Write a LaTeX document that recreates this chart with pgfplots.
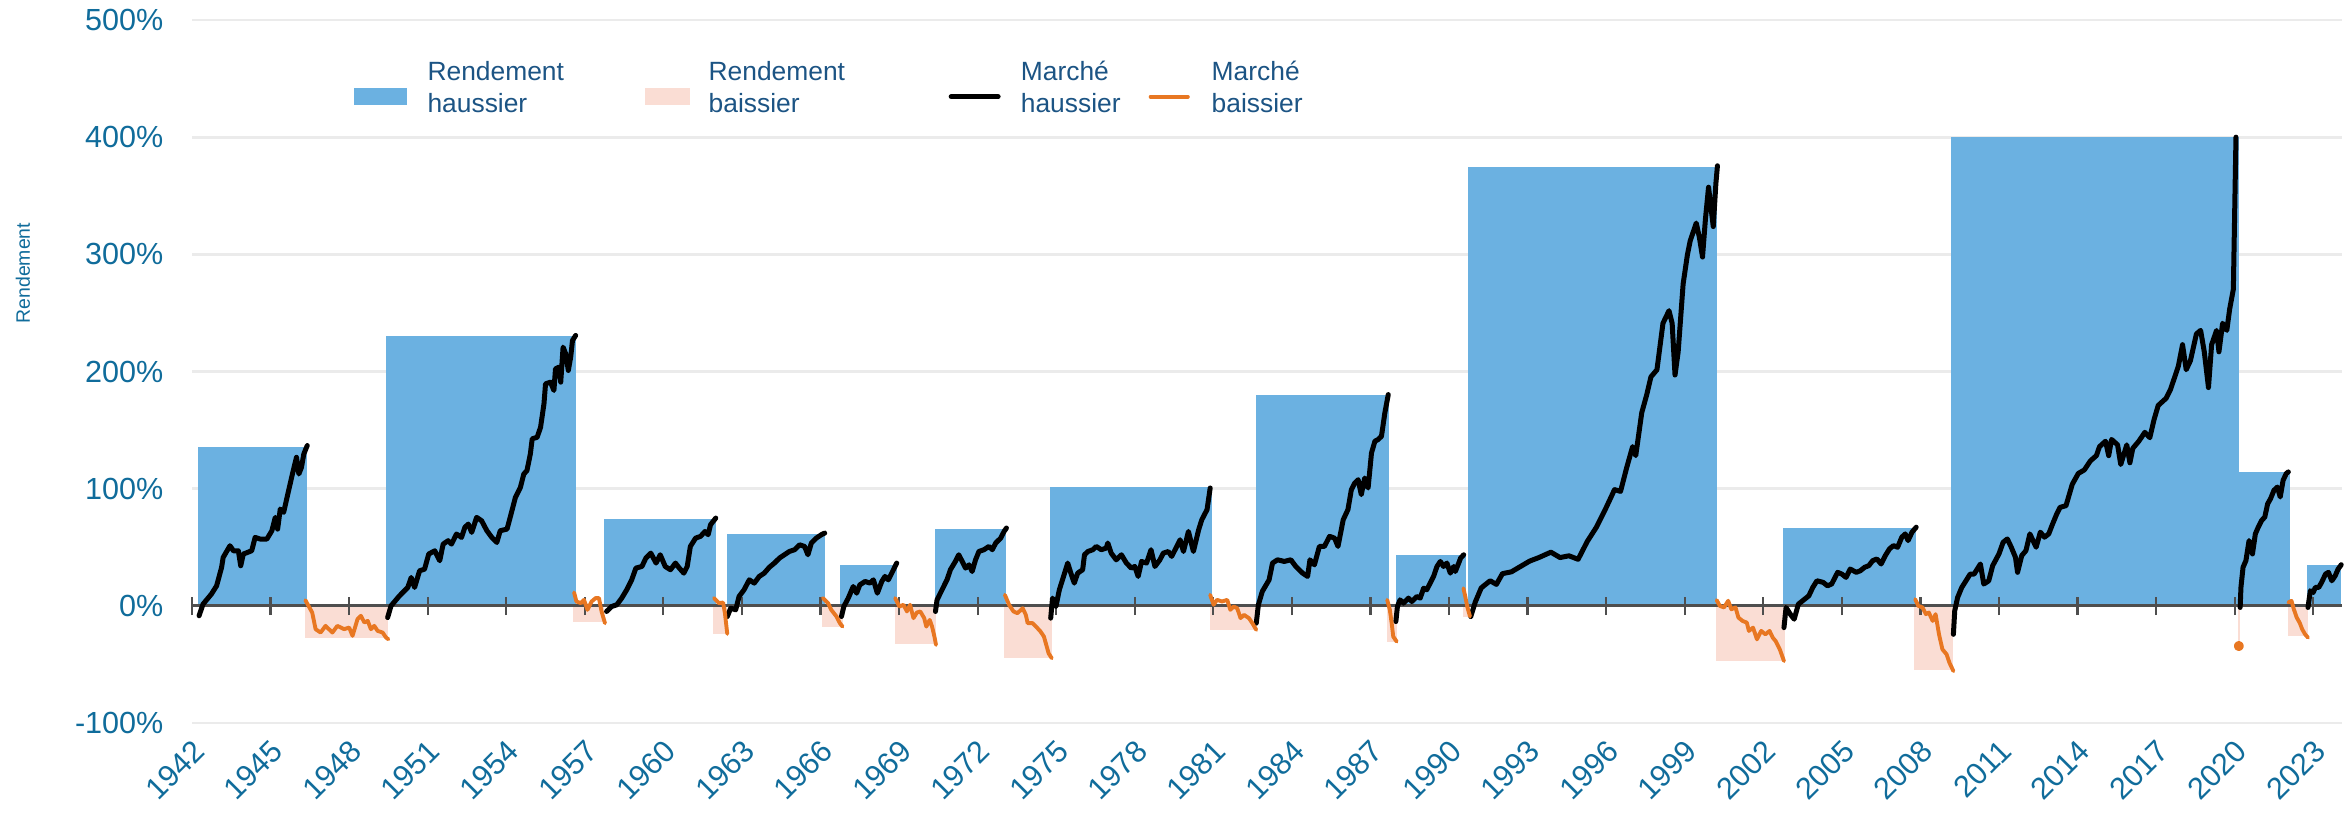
\documentclass[border=0pt]{standalone}
\usepackage{pgfplots}
\pgfplotsset{compat=1.18}
\usepackage{fontspec}
\setmainfont{Liberation Sans}
\definecolor{bullblue}{RGB}{107,177,225}
\definecolor{bearpink}{RGB}{250,221,212}
\definecolor{bearorange}{RGB}{232,119,34}
\definecolor{tickblue}{RGB}{16,108,155}
\definecolor{legblue}{RGB}{28,84,132}
\definecolor{gridgray}{RGB}{235,235,235}
\definecolor{axisgray}{RGB}{78,78,78}
\pgfplotsset{
  layers/mylayers/.define layer set={axis background,axis grid,main,axis ticks,axis lines,axis tick labels,axis descriptions,axis foreground}{
    grid style={/pgfplots/on layer=axis grid},
    tick style={/pgfplots/on layer=axis ticks},
    axis line style={/pgfplots/on layer=axis lines},
    label style={/pgfplots/on layer=axis descriptions},
    legend style={/pgfplots/on layer=axis descriptions},
    title style={/pgfplots/on layer=axis descriptions},
    colorbar style={/pgfplots/on layer=axis descriptions},
    ticklabel style={/pgfplots/on layer=axis tick labels},
    axis background@ style={/pgfplots/on layer=axis background},
    3d box foreground style={/pgfplots/on layer=axis foreground},
  },
  bullline/.style={black,line width=1.8pt,line join=round,line cap=round,forget plot,on layer=axis foreground},
  bearline/.style={bearorange,line width=1.4pt,line join=round,line cap=round,forget plot,on layer=axis foreground},
}
\newcommand{\bullbox}[3]{\addplot[fill=bullblue,draw=none,forget plot] coordinates {(#1,0) (#1,#3) (#2,#3) (#2,0)} -- cycle;}
\newcommand{\bearbox}[3]{\addplot[fill=bearpink,draw=none,forget plot] coordinates {(#1,0) (#1,#3) (#2,#3) (#2,0)} -- cycle;}
\newcommand{\legtext}[3]{\makebox[#1][l]{\begin{tabular}{@{}l@{}}#2\\#3\end{tabular}}}
\begin{document}
\begin{tikzpicture}
\begin{axis}[
  set layers=mylayers,
  at={(69.12pt,32.04pt)}, anchor=south west,
  width=774pt, height=253.08pt, scale only axis,
  xmin=1942, xmax=2024.1, ymin=-100, ymax=500,
  axis x line=middle, axis y line=left,
  hide obscured x ticks=false,
  axis line style={-},
  every inner x axis line/.append style={-},
  x axis line style={-,draw=axisgray,line width=1pt},
  y axis line style={draw=none},
  xtick={1942,1945,...,2023},
  xticklabels={1942,1945,1948,1951,1954,1957,1960,1963,1966,1969,1972,1975,1978,1981,1984,1987,1990,1993,1996,1999,2002,2005,2008,2011,2014,2017,2020,2023},
  ytick={-100,0,100,200,300,400,500},
  yticklabels={-100\%,0\%,100\%,200\%,300\%,400\%,500\%},
  tick align=center,
  major tick length=6.6pt,
  xtick style={draw=axisgray,line width=0.8pt},
  ytick style={draw=none},
  ymajorgrids, grid style={gridgray,line width=1pt},
  xticklabel style={font=\fontsize{11}{13}\selectfont,text=tickblue,anchor=east,inner sep=0pt,xshift=2.6pt,yshift=-47pt,rotate=45},
  yticklabel style={font=\fontsize{11}{13}\selectfont,text=tickblue,anchor=east,inner sep=0pt,xshift=-6.8pt},
  ylabel={Rendement},
  ylabel style={at={(rel axis cs:-0.0786,0.640)},anchor=center,font=\fontsize{7}{8}\selectfont,text=tickblue},
  legend columns=4,
  legend cell align=left,
  legend style={at={(0,1)},anchor=north west,xshift=58pt,yshift=-13.6pt,draw=none,fill=none,inner sep=0pt,
    nodes={inner sep=0pt,text depth=,text=legblue},
    font=\fontsize{9.5}{11.4}\selectfont,column sep=0pt,
    /tikz/column 1/.style={column sep=7.5pt},
    /tikz/column 3/.style={column sep=6.8pt},
    /tikz/column 5/.style={column sep=7.3pt},
    /tikz/column 7/.style={column sep=7.9pt}},
]
\addlegendimage{legend image code/.code={\fill[bullblue] (0pt,-5.2pt) rectangle (18.7pt,0.4pt);}}
\addlegendentry{\legtext{78.2pt}{Rendement}{haussier}}
\addlegendimage{legend image code/.code={\fill[bearpink] (0pt,-5.2pt) rectangle (15.8pt,0.4pt);}}
\addlegendentry{\legtext{86.4pt}{Rendement}{baissier}}
\addlegendimage{legend image code/.code={\draw[black,line width=1.8pt,line cap=round] (0.9pt,-2.4pt) -- (17.8pt,-2.4pt);}}
\addlegendentry{\legtext{46pt}{Marché}{haussier}}
\addlegendimage{legend image code/.code={\draw[bearorange,line width=1.4pt,line cap=round] (0.7pt,-2.4pt) -- (14.1pt,-2.4pt);}}
\addlegendentry{\legtext{40pt}{Marché}{baissier}}

% bull market boxes: start, end, return
\bullbox{1942.23}{1946.40}{135.5}
\bullbox{1949.42}{1956.66}{230.5}
\bullbox{1957.73}{1962.00}{74.1}
\bullbox{1962.41}{1966.16}{61.5}
\bullbox{1966.76}{1968.91}{34.5}
\bullbox{1970.36}{1973.10}{65.5}
\bullbox{1974.76}{1980.95}{101.1}
\bullbox{1982.62}{1987.71}{180.3}
\bullbox{1987.96}{1990.63}{43.6}
\bullbox{1990.74}{2000.25}{374.5}
\bullbox{2002.76}{2007.84}{66.6}
\bullbox{2009.18}{2020.16}{400}
\bullbox{2020.16}{2022.10}{114.3}
\bullbox{2022.76}{2024.07}{35.1}
% bear market boxes
\bearbox{1946.33}{1949.50}{-27.1}
\bearbox{1956.55}{1957.73}{-14.0}
\bearbox{1961.91}{1962.41}{-23.9}
\bearbox{1966.07}{1966.84}{-17.7}
\bearbox{1968.85}{1970.42}{-32.5}
\bearbox{1973.01}{1974.83}{-44.2}
\bearbox{1980.86}{1982.62}{-20.5}
\bearbox{1987.62}{1988.00}{-30.5}
\bearbox{1990.55}{1990.80}{-9.2}
\bearbox{2000.18}{2002.84}{-47.1}
\bearbox{2007.76}{2009.26}{-55.1}
\bearbox{2020.12}{2020.20}{-34.0}
\bearbox{2022.02}{2022.81}{-25.7}

% bull market lines
\addplot[bullline] coordinates {(1942.27,-8.5)(1942.42,1.4)(1942.74,10.0)(1942.94,17.1)(1943.13,32.8)(1943.19,41.3)(1943.45,51.3)(1943.58,47.0)(1943.77,47.0)(1943.86,34.2)(1943.96,44.2)(1944.28,47.0)(1944.41,58.4)(1944.60,57.0)(1944.86,57.0)(1945.05,64.1)(1945.18,75.5)(1945.27,65.5)(1945.37,82.6)(1945.50,79.8)(1945.63,92.6)(1945.82,111.1)(1945.99,126.8)(1946.08,112.5)(1946.18,118.2)(1946.27,129.6)(1946.40,136.8)};
\addplot[bullline] coordinates {(1949.47,-10.0)(1949.60,0)(1949.92,8.5)(1950.24,15.7)(1950.37,24.2)(1950.50,15.7)(1950.69,29.9)(1950.88,31.3)(1951.04,44.2)(1951.27,47.0)(1951.46,38.5)(1951.59,52.7)(1951.78,55.6)(1951.91,52.7)(1952.10,61.3)(1952.29,58.4)(1952.42,67.0)(1952.55,69.8)(1952.68,62.7)(1952.87,75.5)(1953.06,72.6)(1953.26,64.1)(1953.45,58.4)(1953.64,54.1)(1953.77,64.1)(1954.03,65.5)(1954.15,75.5)(1954.35,92.6)(1954.54,101.1)(1954.67,112.5)(1954.79,115.4)(1954.92,129.6)(1954.99,142.5)(1955.18,143.9)(1955.31,152.4)(1955.44,172.4)(1955.50,189.5)(1955.69,190.9)(1955.82,183.8)(1955.88,202.3)(1956.01,203.7)(1956.08,190.9)(1956.17,220.8)(1956.27,215.1)(1956.37,200.9)(1956.46,212.3)(1956.53,226.5)(1956.65,230.8)};
\addplot[bullline] coordinates {(1957.83,-4.8)(1958.02,-0.6)(1958.22,0.9)(1958.41,6.6)(1958.60,13.7)(1958.79,22.2)(1958.95,32.2)(1959.18,33.6)(1959.33,40.7)(1959.52,45.0)(1959.72,36.5)(1959.88,43.6)(1960.07,33.6)(1960.27,30.8)(1960.46,36.5)(1960.61,32.2)(1960.78,27.9)(1960.91,33.6)(1961.03,50.7)(1961.23,57.8)(1961.42,59.3)(1961.59,63.5)(1961.71,60.7)(1961.80,69.2)(1962.00,74.9)};
\addplot[bullline] coordinates {(1962.44,-9.1)(1962.57,-2.0)(1962.76,-3.4)(1962.89,8.0)(1963.08,13.7)(1963.28,22.2)(1963.47,19.4)(1963.66,25.1)(1963.85,27.9)(1964.05,33.0)(1964.24,36.5)(1964.43,40.7)(1964.62,43.6)(1964.81,46.4)(1965.01,47.9)(1965.20,52.1)(1965.39,50.7)(1965.52,43.6)(1965.65,53.6)(1965.84,57.8)(1966.03,60.7)(1966.16,62.1)};
\addplot[bullline] coordinates {(1966.80,-9.1)(1966.89,-0.6)(1967.06,6.6)(1967.25,16.5)(1967.38,10.8)(1967.50,17.9)(1967.70,20.8)(1967.89,19.4)(1968.02,22.2)(1968.17,10.8)(1968.34,20.8)(1968.46,25.1)(1968.59,22.2)(1968.72,27.9)(1968.91,36.5)};
\addplot[bullline] coordinates {(1970.39,-4.8)(1970.45,5.1)(1970.64,13.7)(1970.83,22.2)(1970.96,30.8)(1971.15,37.9)(1971.28,43.6)(1971.41,37.9)(1971.54,32.2)(1971.67,35.0)(1971.79,29.3)(1971.92,39.3)(1972.05,46.4)(1972.24,47.9)(1972.43,50.7)(1972.56,47.9)(1972.69,53.6)(1972.88,57.8)(1973.01,63.5)(1973.10,66.4)};
\addplot[bullline] coordinates {(1974.79,-10.5)(1974.86,6.6)(1974.99,-0.6)(1975.12,13.7)(1975.24,22.2)(1975.44,36.5)(1975.56,27.9)(1975.69,19.4)(1975.82,27.9)(1976.01,30.8)(1976.08,43.6)(1976.21,46.4)(1976.40,47.9)(1976.53,50.7)(1976.72,47.9)(1976.91,49.3)(1976.97,53.6)(1977.10,45.0)(1977.29,39.3)(1977.49,43.6)(1977.68,36.5)(1977.87,32.2)(1978.00,33.6)(1978.13,25.1)(1978.26,37.9)(1978.45,36.5)(1978.62,47.9)(1978.77,33.6)(1978.96,39.3)(1979.09,45.0)(1979.28,46.4)(1979.41,42.2)(1979.54,47.9)(1979.73,56.4)(1979.86,46.4)(1980.05,63.5)(1980.24,46.4)(1980.44,65.0)(1980.56,73.5)(1980.76,82.1)(1980.88,100.6)};
\addplot[bullline] coordinates {(1982.64,-14.8)(1982.72,0.9)(1982.87,12.3)(1983.13,22.2)(1983.26,36.5)(1983.45,39.3)(1983.71,37.9)(1983.96,39.3)(1984.15,33.6)(1984.41,27.9)(1984.60,25.1)(1984.69,39.3)(1984.86,35.0)(1985.05,50.7)(1985.24,50.7)(1985.44,59.3)(1985.63,57.8)(1985.76,50.7)(1985.96,73.5)(1986.14,82.1)(1986.27,99.1)(1986.40,104.8)(1986.53,107.7)(1986.65,94.9)(1986.78,109.1)(1986.91,100.6)(1987.04,130.5)(1987.17,140.5)(1987.29,141.9)(1987.42,144.7)(1987.55,164.7)(1987.68,180.3)};
\addplot[bullline] coordinates {(1987.97,-13.4)(1988.03,-0.6)(1988.13,5.1)(1988.26,2.3)(1988.45,6.6)(1988.58,3.7)(1988.77,8.0)(1988.90,6.6)(1989.03,15.1)(1989.15,13.7)(1989.28,19.4)(1989.41,25.1)(1989.54,33.6)(1989.67,37.9)(1989.79,33.6)(1989.92,36.5)(1990.05,27.9)(1990.18,33.6)(1990.24,29.3)(1990.37,36.5)(1990.44,40.7)(1990.56,43.6)};
\addplot[bullline] coordinates {(1990.83,-9.2)(1991.00,3.1)(1991.23,15.3)(1991.57,21.4)(1991.81,18.3)(1992.04,27.5)(1992.38,29.0)(1992.73,33.6)(1993.08,38.2)(1993.43,41.2)(1993.89,45.8)(1994.24,41.2)(1994.58,42.7)(1994.93,39.7)(1995.28,55.0)(1995.63,67.2)(1995.97,82.4)(1996.32,99.2)(1996.55,97.7)(1996.78,117.6)(1997.01,135.9)(1997.13,128.2)(1997.36,164.9)(1997.55,180.2)(1997.71,195.4)(1997.94,201.5)(1998.17,241.2)(1998.40,251.9)(1998.52,241.2)(1998.63,197.0)(1998.75,216.8)(1998.94,274.8)(1999.10,299.2)(1999.21,311.5)(1999.44,326.7)(1999.56,314.5)(1999.68,297.7)(1999.79,329.8)(1999.91,357.3)(2000.09,323.7)(2000.19,360.3)(2000.25,375.6)};
\addplot[bullline] coordinates {(2002.79,-18.6)(2002.87,-1.4)(2003.03,-7.1)(2003.18,-11.4)(2003.34,1.4)(2003.58,5.7)(2003.74,8.6)(2003.89,15.7)(2004.05,21.4)(2004.29,20.0)(2004.45,17.1)(2004.61,18.6)(2004.84,28.6)(2005.00,27.1)(2005.16,24.3)(2005.32,31.4)(2005.55,28.6)(2005.71,30.0)(2005.87,32.9)(2006.03,34.3)(2006.18,38.6)(2006.34,40.0)(2006.50,35.7)(2006.66,42.9)(2006.82,48.6)(2006.97,51.4)(2007.13,50.0)(2007.29,58.6)(2007.42,61.4)(2007.53,55.7)(2007.68,62.9)(2007.84,67.1)};
\addplot[bullline] coordinates {(2009.26,-24.3)(2009.31,-4.3)(2009.42,7.1)(2009.58,15.7)(2009.74,21.4)(2009.90,27.1)(2010.05,27.1)(2010.29,35.7)(2010.42,18.6)(2010.61,21.4)(2010.76,34.3)(2011.00,44.3)(2011.16,54.3)(2011.32,57.1)(2011.47,50.0)(2011.63,41.4)(2011.71,28.6)(2011.87,42.9)(2012.03,47.1)(2012.18,61.4)(2012.42,50.0)(2012.58,62.9)(2012.74,58.6)(2012.90,61.4)(2013.05,70.0)(2013.21,78.6)(2013.33,84.0)(2013.56,85.5)(2013.80,103.8)(2014.03,113.0)(2014.26,116.0)(2014.49,123.7)(2014.72,128.2)(2014.84,135.9)(2015.07,140.5)(2015.19,128.2)(2015.30,142.0)(2015.53,137.4)(2015.65,120.6)(2015.88,137.4)(2016.00,122.1)(2016.11,134.4)(2016.34,140.5)(2016.57,148.1)(2016.76,143.5)(2016.92,158.8)(2017.08,171.0)(2017.38,177.1)(2017.55,184.7)(2017.69,193.9)(2017.85,204.6)(2018.01,222.9)(2018.15,201.5)(2018.31,209.2)(2018.54,232.1)(2018.70,235.1)(2018.84,216.8)(2019.00,186.3)(2019.12,222.9)(2019.31,235.1)(2019.40,216.8)(2019.54,241.2)(2019.70,235.1)(2019.81,253.4)(2019.95,270.2)(2020.05,400.0)};
\addplot[bullline] coordinates {(2020.21,-1.4)(2020.24,15.7)(2020.32,32.9)(2020.43,38.6)(2020.55,55.7)(2020.68,44.3)(2020.79,61.4)(2020.90,67.1)(2021.03,72.9)(2021.15,75.7)(2021.26,87.1)(2021.37,91.4)(2021.50,98.6)(2021.63,101.4)(2021.74,92.9)(2021.85,107.1)(2021.97,112.9)(2022.05,114.3)};
\addplot[bullline] coordinates {(2022.80,-1.4)(2022.89,12.9)(2023.00,11.4)(2023.08,15.7)(2023.21,15.7)(2023.32,20.0)(2023.47,27.1)(2023.58,28.6)(2023.71,21.4)(2023.84,25.7)(2023.95,31.4)(2024.07,35.1)};

% bear market lines
\addplot[bearline] coordinates {(1946.33,4.8)(1946.59,-5.7)(1946.72,-19.9)(1946.91,-22.8)(1947.10,-17.1)(1947.36,-22.8)(1947.55,-17.1)(1947.81,-19.9)(1948.00,-18.5)(1948.13,-25.6)(1948.32,-11.4)(1948.45,-8.5)(1948.58,-14.2)(1948.71,-12.8)(1948.83,-19.9)(1948.96,-17.1)(1949.09,-21.4)(1949.28,-22.8)(1949.41,-27.1)(1949.50,-28.5)};
\addplot[bearline] coordinates {(1956.59,11.4)(1956.68,3.7)(1956.85,2.3)(1956.97,5.1)(1957.10,-3.4)(1957.26,3.7)(1957.41,6.6)(1957.54,6.6)(1957.64,-4.8)(1957.77,-14.8)};
\addplot[bearline] coordinates {(1961.93,6.6)(1962.12,2.3)(1962.28,2.8)(1962.35,-6.3)(1962.44,-23.9)};
\addplot[bearline] coordinates {(1966.09,6.6)(1966.29,2.3)(1966.41,-3.4)(1966.61,-9.1)(1966.74,-14.8)(1966.84,-17.7)};
\addplot[bearline] coordinates {(1968.85,6.6)(1969.01,-0.6)(1969.17,0.9)(1969.30,-4.8)(1969.42,0.9)(1969.55,-10.5)(1969.68,-5.7)(1969.81,-4.8)(1969.96,-10.5)(1970.04,-17.7)(1970.17,-12.0)(1970.26,-17.7)(1970.35,-26.2)(1970.41,-33.3)};
\addplot[bearline] coordinates {(1973.04,9.4)(1973.20,0.9)(1973.37,-4.8)(1973.52,-6.3)(1973.72,-2.0)(1973.84,-7.7)(1973.91,-14.8)(1974.10,-14.8)(1974.23,-17.7)(1974.40,-21.9)(1974.53,-26.2)(1974.62,-33.3)(1974.71,-40.5)(1974.83,-44.7)};
\addplot[bearline] coordinates {(1980.88,9.4)(1981.01,0.9)(1981.14,5.1)(1981.33,3.7)(1981.53,5.1)(1981.65,-3.4)(1981.78,-0.6)(1981.91,-2.0)(1982.04,-10.5)(1982.17,-7.7)(1982.36,-10.5)(1982.49,-14.8)(1982.64,-20.5)};
\addplot[bearline] coordinates {(1987.64,5.1)(1987.74,-3.4)(1987.81,-14.8)(1987.87,-26.2)(1988.00,-30.5)};
\addplot[bearline] coordinates {(1990.55,15.0)(1990.62,8.0)(1990.70,-1.0)(1990.80,-9.0)};
\addplot[bearline] coordinates {(2000.22,4.9)(2000.34,0)(2000.50,-1.4)(2000.66,4.3)(2000.78,-2.9)(2000.94,-1.4)(2001.05,-10.0)(2001.21,-12.9)(2001.37,-14.3)(2001.45,-21.4)(2001.61,-18.6)(2001.76,-28.6)(2001.92,-21.4)(2002.08,-24.3)(2002.24,-21.4)(2002.36,-27.1)(2002.47,-30.0)(2002.63,-37.1)(2002.79,-47.1)};
\addplot[bearline] coordinates {(2007.80,5.7)(2007.92,0)(2008.08,-1.4)(2008.21,-7.1)(2008.32,-5.7)(2008.47,-12.9)(2008.58,-7.1)(2008.71,-24.3)(2008.84,-37.1)(2009.00,-41.4)(2009.11,-48.6)(2009.26,-55.7)};
\addplot[bearline,only marks,mark=*,mark size=1.1pt] coordinates {(2020.16,-34.3)};
\addplot[bearline] coordinates {(2022.05,2.9)(2022.17,4.3)(2022.26,-2.9)(2022.37,-10.0)(2022.48,-14.3)(2022.58,-20.0)(2022.69,-24.3)(2022.80,-27.1)};
\end{axis}
\pgfresetboundingbox
\path[use as bounding box] (0,0) rectangle (844.56pt,292.32pt);
\end{tikzpicture}
\end{document}
